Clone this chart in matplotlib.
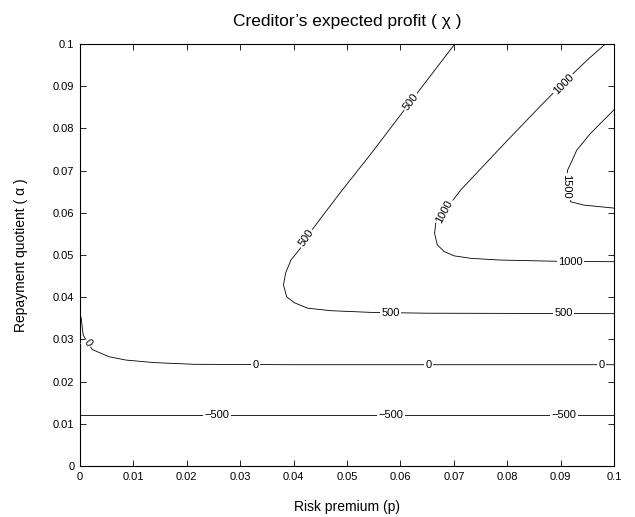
import matplotlib
matplotlib.use("Agg")
import matplotlib.pyplot as plt
from matplotlib.ticker import FormatStrFormatter, MultipleLocator

plt.rcParams['font.family'] = ['Liberation Sans', 'DejaVu Sans']

# ── contour lines: (risk premium p, repayment quotient alpha) ──
lvl_m500_x = [0.0, 0.1]
lvl_m500_y = [0.0121, 0.0121]

lvl_0_x = [0.0002, 0.0006, 0.0015, 0.0023, 0.0054, 0.0086, 0.0139, 0.0213, 0.04, 0.1]
lvl_0_y = [0.0352, 0.0310, 0.0291, 0.0276, 0.0259, 0.0251, 0.0245, 0.0241, 0.0240, 0.0240]

lvl_500_x = [0.0702, 0.0619, 0.0545, 0.0490, 0.0455, 0.0423, 0.0413, 0.0395, 0.0385,
             0.0381, 0.0387, 0.0401, 0.0426, 0.0469, 0.0544, 0.0650, 0.1]
lvl_500_y = [0.1, 0.0863, 0.0740, 0.0652, 0.0594, 0.0540, 0.0516, 0.0488, 0.0457,
             0.0429, 0.0401, 0.0387, 0.0374, 0.0368, 0.0364, 0.0362, 0.0361]

lvl_1000_x = [0.0984, 0.0950, 0.0903, 0.0860, 0.0791, 0.0713, 0.0682, 0.0666, 0.0664,
              0.0669, 0.0682, 0.0700, 0.0732, 0.0785, 0.0894, 0.1]
lvl_1000_y = [0.1, 0.0962, 0.0905, 0.0850, 0.0759, 0.0654, 0.0603, 0.0575, 0.0551,
              0.0524, 0.0508, 0.0498, 0.0492, 0.0488, 0.0485, 0.0484]

lvl_1500_x = [0.1, 0.0956, 0.0930, 0.0919, 0.0913, 0.0910, 0.0919, 0.0944, 0.1]
lvl_1500_y = [0.0844, 0.0788, 0.0748, 0.0717, 0.0701, 0.0663, 0.0626, 0.0618, 0.0611]

# ── contour labels: text, position, rotation ──
label_text = ["\u2212500", "\u2212500", "\u2212500",
              "0", "0", "0", "0",
              "500", "500", "500", "500",
              "1000", "1000", "1000",
              "1500"]
label_x = [0.0257, 0.0582, 0.0906,
           0.0015, 0.0329, 0.0652, 0.0976,
           0.0423, 0.0619, 0.0582, 0.0906,
           0.0682, 0.0905, 0.0919,
           0.0910]
label_y = [0.0121, 0.0121, 0.0121,
           0.0291, 0.0240, 0.0240, 0.0240,
           0.0540, 0.0863, 0.0362, 0.0362,
           0.0603, 0.0905, 0.0484,
           0.0663]
label_rot = [0, 0, 0,
             -55, 0, 0, 0,
             55, 52, 0, 0,
             62, 45, 0,
             -90]

fig = plt.figure(figsize=(6.35, 5.17), dpi=100)
ax = fig.add_axes([0.126, 0.0986, 0.841, 0.8165])

for xs, ys in [(lvl_m500_x, lvl_m500_y), (lvl_0_x, lvl_0_y), (lvl_500_x, lvl_500_y),
               (lvl_1000_x, lvl_1000_y), (lvl_1500_x, lvl_1500_y)]:
    ax.plot(xs, ys, color="black", lw=0.6, solid_joinstyle="round")

for t, x, y, r in zip(label_text, label_x, label_y, label_rot):
    ax.text(x, y, t, rotation=r, ha="center", va="center", fontsize=8,
            rotation_mode="anchor",
            bbox=dict(boxstyle="square,pad=0.12", fc="white", ec="none"))

ax.set_xlim(0, 0.1)
ax.set_ylim(0, 0.1)
ax.xaxis.set_major_locator(MultipleLocator(0.01))
ax.yaxis.set_major_locator(MultipleLocator(0.01))
ax.xaxis.set_major_formatter(FormatStrFormatter("%g"))
ax.yaxis.set_major_formatter(FormatStrFormatter("%g"))
ax.tick_params(direction="in", top=True, right=True, length=4.5, width=0.6,
               labelsize=8, pad=4)
for s in ax.spines.values():
    s.set_linewidth(0.8)

ax.set_xlabel("Risk premium (p)", fontsize=10, labelpad=13)
ax.set_ylabel("Repayment quotient ( \u03b1 )", fontsize=10, labelpad=18)
ax.set_title("Creditor\u2019s expected profit ( \u03c7 )", fontsize=12.5, pad=13)

fig.savefig("out.png", dpi=100)
